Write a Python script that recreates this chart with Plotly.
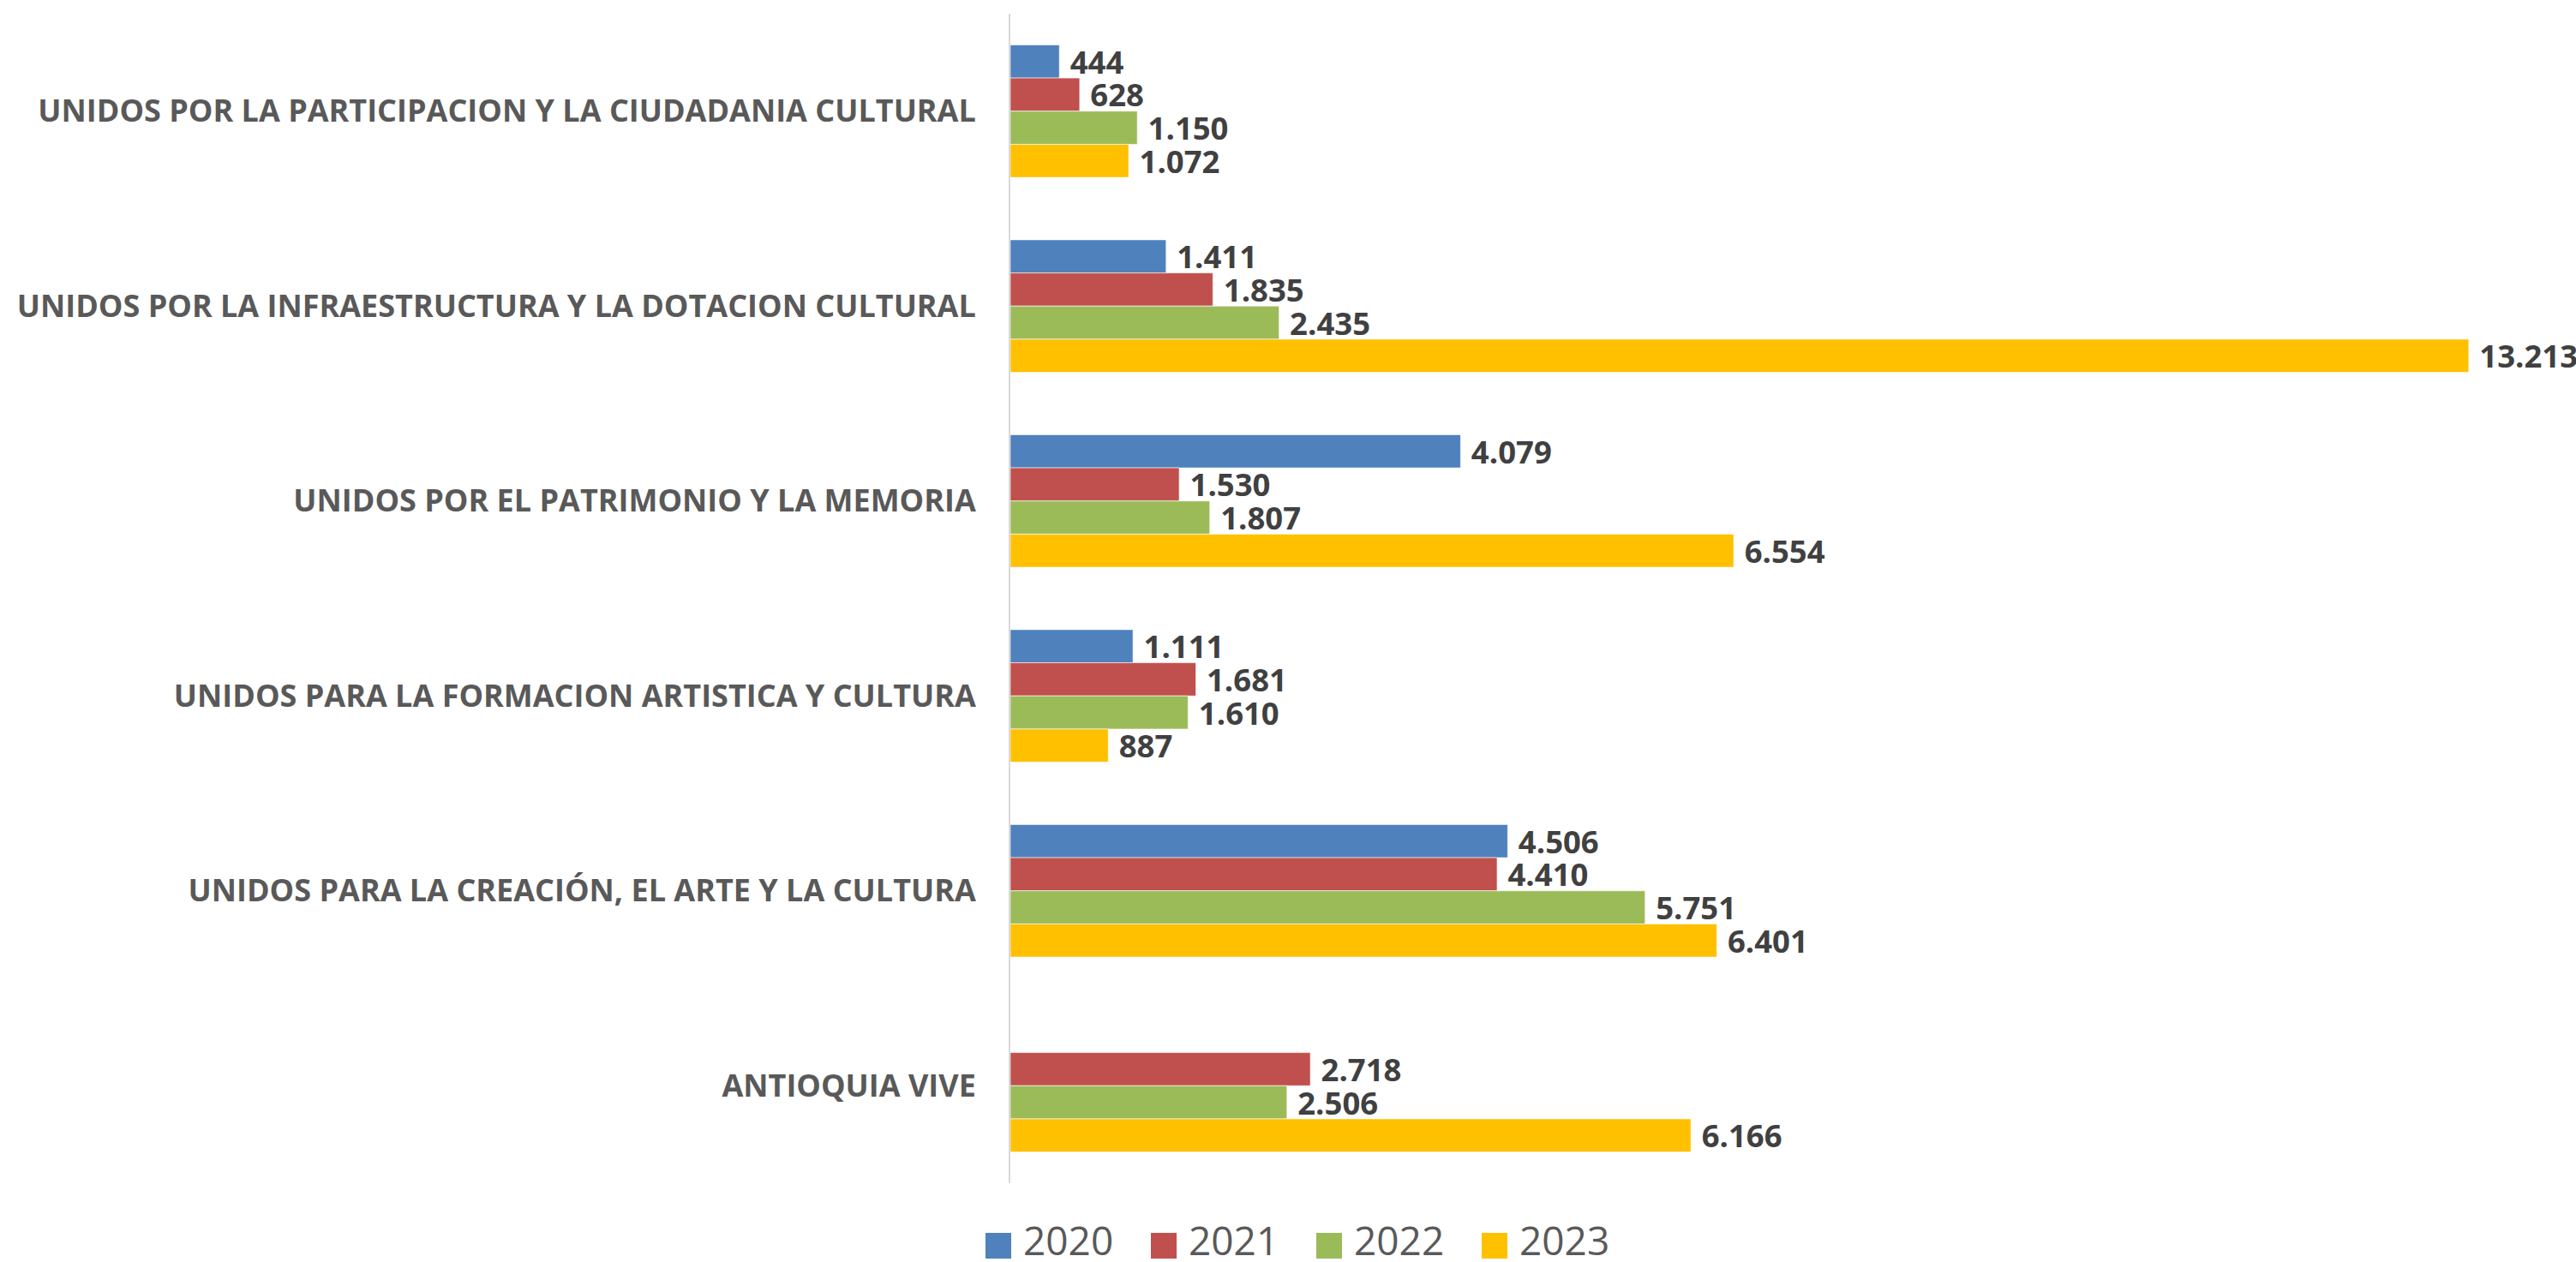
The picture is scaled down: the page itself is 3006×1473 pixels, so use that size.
import plotly.graph_objects as go

categories = [
    "UNIDOS POR LA PARTICIPACION Y LA CIUDADANIA CULTURAL",
    "UNIDOS POR LA INFRAESTRUCTURA Y LA DOTACION CULTURAL",
    "UNIDOS POR EL PATRIMONIO Y LA MEMORIA",
    "UNIDOS PARA LA FORMACION ARTISTICA Y CULTURA",
    "UNIDOS PARA LA CREACIÓN, EL ARTE Y LA CULTURA",
    "ANTIOQUIA VIVE",
]
years = ["2020", "2021", "2022", "2023"]
values_2020 = [444, 1411, 4079, 1111, 4506, None]
values_2021 = [628, 1835, 1530, 1681, 4410, 2718]
values_2022 = [1150, 2435, 1807, 1610, 5751, 2506]
values_2023 = [1072, 13213, 6554, 887, 6401, 6166]
colors = ["#4F81BD", "#C0504D", "#9BBB59", "#FFC000"]

W, H = 3006, 1473
M = dict(l=1179, r=60, t=16, b=92)
PX_PER_UNIT = 0.1288
plot_w = W - M["l"] - M["r"]
plot_h = H - M["t"] - M["b"]

fig = go.Figure()
for year, vals, col in zip(years, [values_2020, values_2021, values_2022, values_2023], colors):
    fig.add_trace(go.Bar(
        y=categories, x=vals, name=year, orientation="h",
        marker=dict(color=col, line=dict(color="rgba(255,255,255,0.6)", width=1)),
        texttemplate="\u00a0%{x:,.0f}", textposition="outside",
        textfont=dict(family="Open Sans", size=36.5, color="#404040", weight="bold"),
        constraintext="none", cliponaxis=False, showlegend=False,
    ))

fig.update_layout(
    width=W, height=H, margin=M,
    barmode="group", bargap=0.32, bargroupgap=0,
    plot_bgcolor="white", paper_bgcolor="white",
    separators=",.",
    xaxis=dict(range=[0, plot_w / PX_PER_UNIT], visible=False, showgrid=False, zeroline=False),
    yaxis=dict(
        autorange="reversed", showgrid=False, zeroline=False,
        showline=True, linecolor="#D9D9D9", linewidth=2, ticks="",
        ticklabelstandoff=31,
        tickfont=dict(family="Open Sans", size=36, color="#595959", weight="bold"),
    ),
)


# legend drawn by hand so the swatches can be as large as in the reference
def px_x(px):
    return (px - M["l"]) / plot_w


def px_y(py):
    return (H - M["b"] - py) / plot_h


leg_x0, leg_step, sw = 1150, 193, 30
leg_cy = 1447
for i, (year, col) in enumerate(zip(years, colors)):
    x0 = leg_x0 + i * leg_step
    fig.add_shape(type="rect", xref="paper", yref="paper",
                  x0=px_x(x0), x1=px_x(x0 + sw), y0=px_y(1469), y1=px_y(1439),
                  fillcolor=col, line_width=0)
    fig.add_annotation(xref="paper", yref="paper", x=px_x(x0 + sw + 12), y=px_y(leg_cy),
                       text=year, showarrow=False, xanchor="left", yanchor="middle",
                       font=dict(family="Open Sans", size=46, color="#595959"))

# drop the default 8px body margin so the figure sits flush in the window
fig.write_html("out.html", config={"displayModeBar": False},
               post_script="document.body.style.margin='0';")
